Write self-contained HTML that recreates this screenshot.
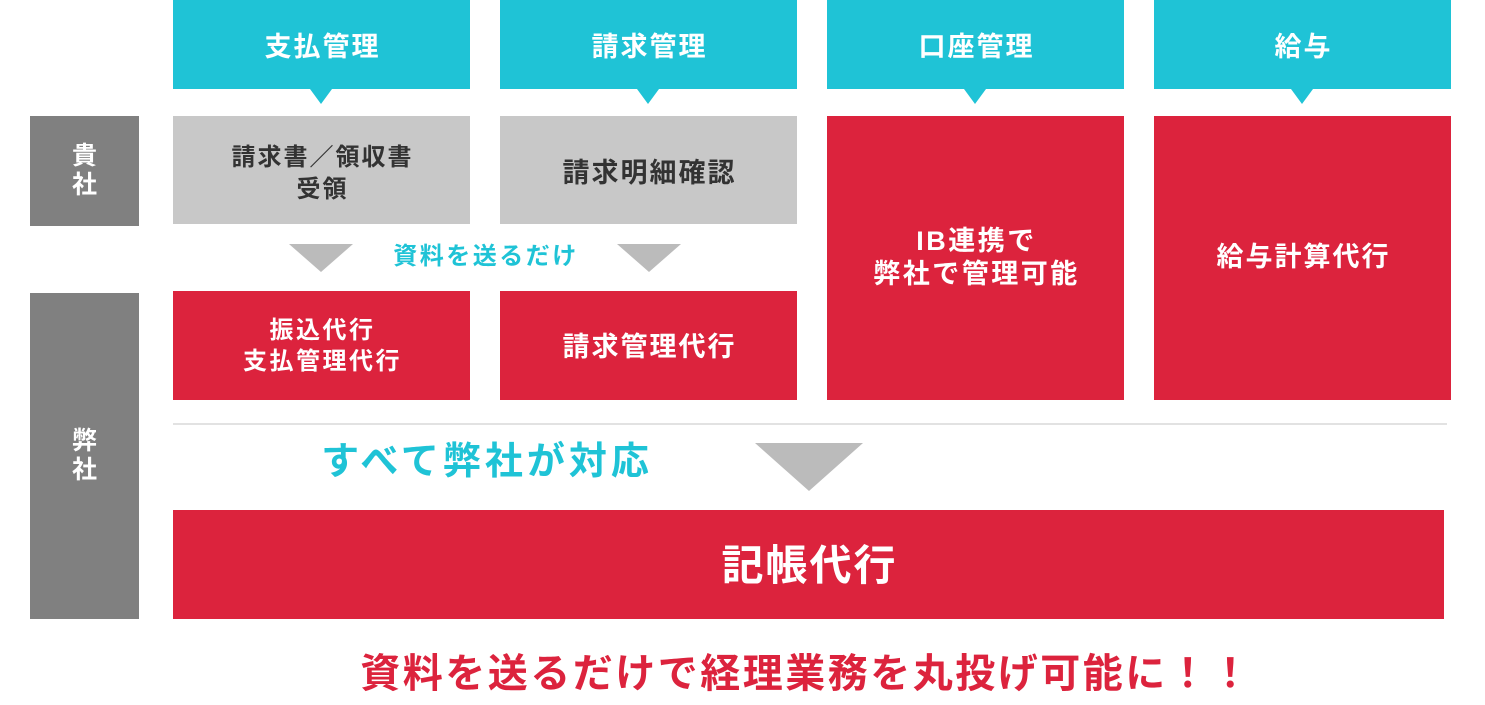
<!DOCTYPE html>
<html><head><meta charset="utf-8"><style>
body{margin:0;width:1485px;height:705px;background:#fff;position:relative;overflow:hidden;font-family:"Liberation Sans","Noto Sans CJK JP",sans-serif;font-weight:bold}
.b{position:absolute;display:flex;align-items:center;justify-content:center;text-align:center;line-height:1.3;box-sizing:border-box}
.c{background:#1fc3d6;color:#fff;font-size:27px;top:0;height:89px;width:297px;letter-spacing:2px;padding:6px 0 0 2px}
.g{background:#c8c8c8;color:#333;font-size:24px;top:116px;height:108px;width:297px;padding-top:8px}
.r{background:#dc233d;color:#fff;font-size:24px}
.l{background:#808080;color:#fff;font-size:25px;left:30px;width:109px;line-height:1.15}
.t{position:absolute;width:0;height:0}
.p{border-left:11px solid transparent;border-right:11px solid transparent;border-top:15px solid #1fc3d6;top:89px}
</style></head><body>
<div class="b c" style="left:173px">支払管理</div>
<div class="b c" style="left:500px">請求管理</div>
<div class="b c" style="left:827px">口座管理</div>
<div class="b c" style="left:1154px">給与</div>
<div class="t p" style="left:310px"></div>
<div class="t p" style="left:637px"></div>
<div class="t p" style="left:964px"></div>
<div class="t p" style="left:1291px"></div>
<div class="b l" style="top:116px;height:110px">貴<br>社</div>
<div class="b l" style="top:293px;height:326px">弊<br>社</div>
<div class="b g" style="left:173px;letter-spacing:2px;padding-left:2px;line-height:32px">請求書／領収書<br>受領</div>
<div class="b g" style="left:500px;font-size:27px;letter-spacing:2px;padding-left:2px">請求明細確認</div>
<div class="b r" style="left:827px;top:116px;width:297px;height:284px;font-size:27px;letter-spacing:2.5px;padding-left:2px;line-height:33px">IB連携で<br>弊社で管理可能</div>
<div class="b r" style="left:1154px;top:116px;width:297px;height:284px;font-size:27px;letter-spacing:2px;padding-left:2px">給与計算代行</div>
<div class="t" style="left:289px;top:244px;border-left:32px solid transparent;border-right:32px solid transparent;border-top:28px solid #bbb"></div>
<div class="t" style="left:617px;top:244px;border-left:32px solid transparent;border-right:32px solid transparent;border-top:28px solid #bbb"></div>
<div class="b" style="left:370px;top:242px;width:230px;height:30px;color:#1fc3d6;font-size:24px;letter-spacing:2.5px;padding-left:2px">資料を送るだけ</div>
<div class="b r" style="left:173px;top:291px;width:297px;height:109px;letter-spacing:2.5px;padding-left:2px;line-height:31px">振込代行<br>支払管理代行</div>
<div class="b r" style="left:500px;top:291px;width:297px;height:109px;font-size:27px;letter-spacing:2px;padding-left:2px;padding-top:4px">請求管理代行</div>
<div style="position:absolute;left:173px;top:423px;width:1274px;height:2px;background:#e2e2e2"></div>
<div class="b" style="left:270px;top:438px;width:430px;height:50px;color:#1fc3d6;font-size:38px;letter-spacing:4px;padding-left:4px">すべて弊社が対応</div>
<div class="t" style="left:755px;top:443px;border-left:54px solid transparent;border-right:54px solid transparent;border-top:48px solid #bbb"></div>
<div class="b r" style="left:173px;top:510px;width:1271px;height:109px;font-size:42px;letter-spacing:2px;padding-left:2px;padding-top:4px">記帳代行</div>
<div class="b" style="left:250px;top:649px;width:1110px;height:50px;color:#dc233d;font-size:40px;letter-spacing:2.5px;padding-left:3px">資料を送るだけで経理業務を丸投げ可能に！！</div>
</body></html>
